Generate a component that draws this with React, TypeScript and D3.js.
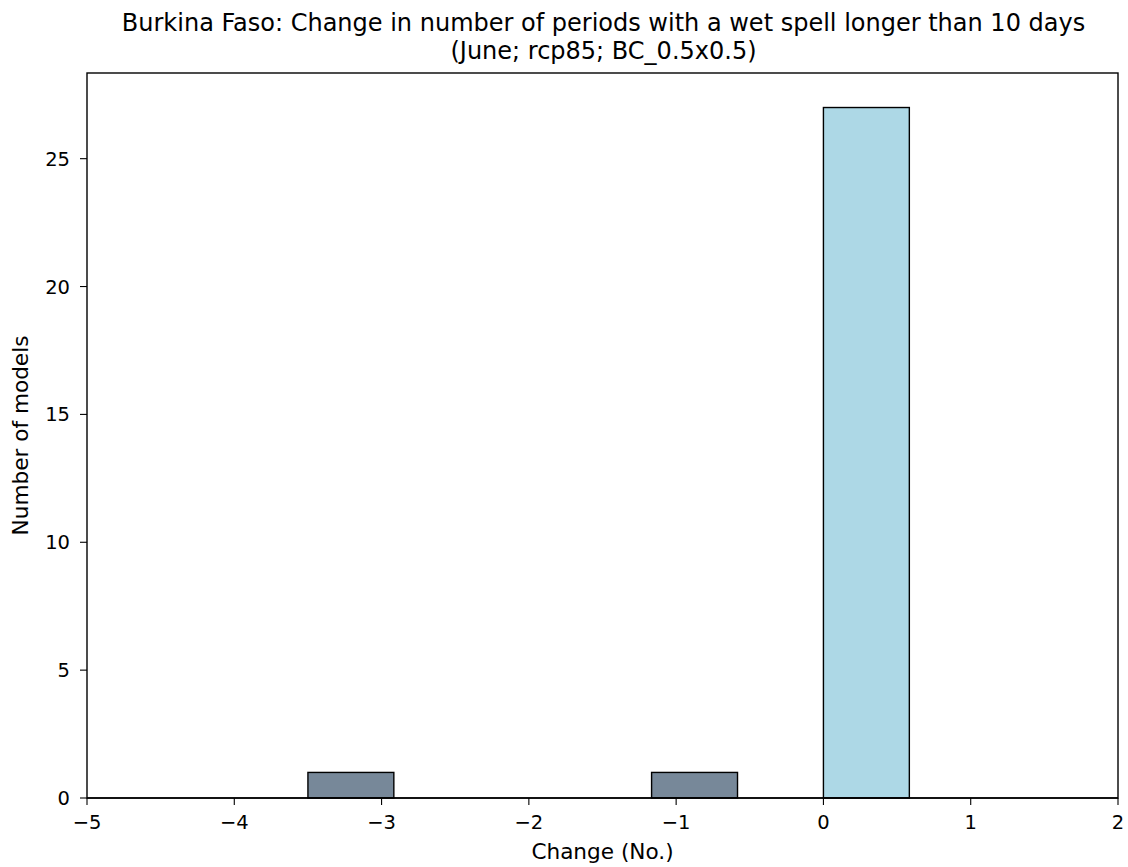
import React from "react";
import * as d3 from "d3";

const binEdges = [-3.5, -2.9167, -2.3333, -1.75, -1.1667, -0.5833, 0, 0.5833];
const counts = [1, 0, 0, 0, 1, 0, 27];
const barColors = ["#778899", "#778899", "#778899", "#778899", "#778899", "#778899", "#add8e6"];
const xTicks = [-5, -4, -3, -2, -1, 0, 1, 2];
const yTicks = [0, 5, 10, 15, 20, 25];
const titleLines = [
  "Burkina Faso: Change in number of periods with a wet spell longer than 10 days",
  "(June; rcp85; BC_0.5x0.5)",
];

const W = 1128, H = 867;
const M = { left: 87, right: 1118, top: 73, bottom: 798 };
const FONT = "DejaVu Sans, sans-serif";
const FS = 19.5;
const LFS = 21.6;
const TFS = 24;

export default function App() {
  const x = d3.scaleLinear().domain([-5, 2]).range([M.left, M.right]);
  const y = d3.scaleLinear().domain([0, 27 * 1.05]).range([M.bottom, M.top]);
  const fmt = (v: number) => (v < 0 ? "\u2212" + Math.abs(v) : String(v));
  return (
    <svg width={W} height={H} style={{ position: "absolute", left: 0, top: 0, background: "#fff" }} fontFamily={FONT}>
      <rect x={0} y={0} width={W} height={H} fill="#fff" />
      {counts.map((c, i) =>
        c > 0 ? (
          <rect
            key={i}
            x={x(binEdges[i])}
            y={y(c)}
            width={x(binEdges[i + 1]) - x(binEdges[i])}
            height={y(0) - y(c)}
            fill={barColors[i]}
            stroke="#000"
            strokeWidth={1.4}
          />
        ) : null
      )}
      <line x1={M.left} x2={M.right} y1={y(0)} y2={y(0)} stroke="#000" strokeWidth={1.4} />
      <rect x={M.left} y={M.top} width={M.right - M.left} height={M.bottom - M.top} fill="none" stroke="#000" strokeWidth={1.4} />
      {xTicks.map((t) => (
        <g key={t}>
          <line x1={x(t)} x2={x(t)} y1={M.bottom} y2={M.bottom + 7} stroke="#000" strokeWidth={1.1} />
          <text x={x(t)} y={M.bottom + 31} textAnchor="middle" fontSize={FS} fill="#000">{fmt(t)}</text>
        </g>
      ))}
      {yTicks.map((t) => (
        <g key={t}>
          <line x1={M.left - 7} x2={M.left} y1={y(t)} y2={y(t)} stroke="#000" strokeWidth={1.1} />
          <text x={M.left - 17} y={y(t)} dy="0.36em" textAnchor="end" fontSize={FS} fill="#000">{fmt(t)}</text>
        </g>
      ))}
      <text x={(M.left + M.right) / 2} y={859} textAnchor="middle" fontSize={LFS} fill="#000">Change (No.)</text>
      <text transform={`translate(28, ${(M.top + M.bottom) / 2}) rotate(-90)`} textAnchor="middle" fontSize={LFS} fill="#000">Number of models</text>
      {titleLines.map((l, i) => (
        <text key={i} x={(M.left + M.right) / 2 + 1} y={31 + i * 28} textAnchor="middle" fontSize={TFS} fill="#000">{l}</text>
      ))}
    </svg>
  );
}
